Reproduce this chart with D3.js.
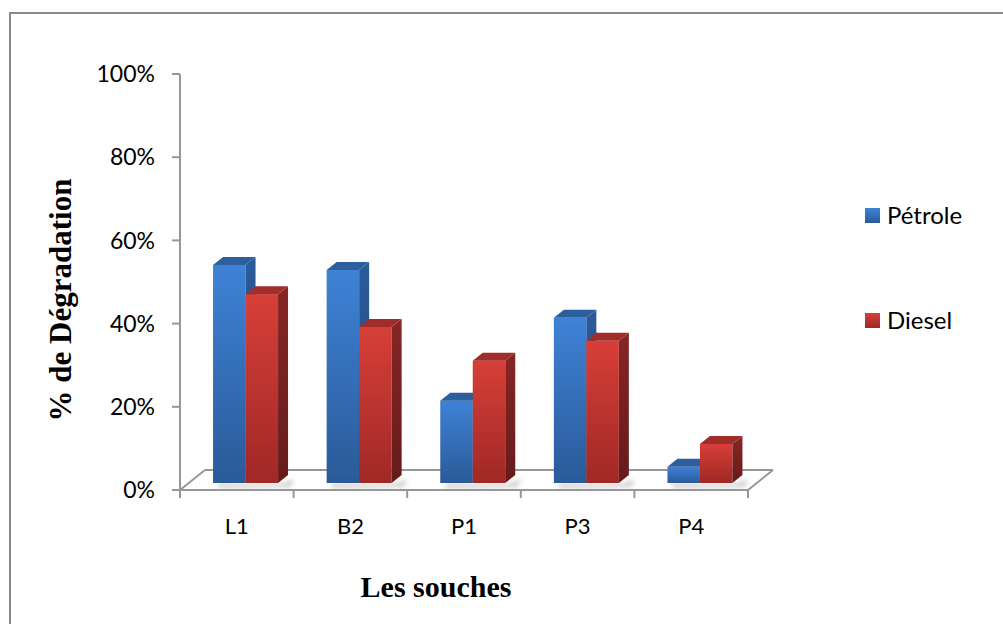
<!DOCTYPE html>
<html>
<head>
<meta charset="utf-8">
<script src="https://cdn.jsdelivr.net/npm/d3@7"></script>
<style>
  html, body { margin: 0; padding: 0; background: #fff; }
  svg { display: block; }
</style>
</head>
<body>
<svg id="chart" width="1003" height="624"></svg>
<script>
// Degradation rate per strain, for each hydrocarbon
const categories = ["L1", "B2", "P1", "P3", "P4"];
const seriesNames = ["Pétrole", "Diesel"];
const petrole = [0.524, 0.512, 0.198, 0.397, 0.039];
const diesel = [0.454, 0.375, 0.294, 0.342, 0.094];
const yTicks = [0, 0.2, 0.4, 0.6, 0.8, 1.0];

const svg = d3.select("#chart");
const sansFont = "Lato, 'Open Sans', sans-serif";
const serifFont = "'Liberation Serif', 'Times New Roman', serif";

// Outer frame
svg.append("rect")
  .attr("x", 10).attr("y", 13).attr("width", 1020).attr("height", 700)
  .attr("fill", "none").attr("stroke", "#8a8a8a").attr("stroke-width", 2);

const x0 = 180, x1 = 748, yBase = 490, yTop = 74;
const x = d3.scaleBand().domain(categories).range([x0, x1]).paddingInner(0).paddingOuter(0);
const y = d3.scaleLinear().domain([0, 1]).range([yBase, yTop]);

// Oblique projection of the depth axis
const kx = 1.25, ky = -1;
const floorDepth = 20, barFront = 7, barBack = 15;
const proj = (px, py, d) => [px + kx * d, py + ky * d];

const defs = svg.append("defs");
[
  { id: "gBlue", top: "#3e82d6", bottom: "#2a5a98" },
  { id: "gRed", top: "#d73f38", bottom: "#a02826" },
  { id: "gBlueSide", top: "#2b5c9a", bottom: "#1f4679" },
  { id: "gRedSide", top: "#862625", bottom: "#651b1a" }
].forEach(g => {
  const lg = defs.append("linearGradient").attr("id", g.id)
    .attr("x1", 0).attr("y1", 0).attr("x2", 0).attr("y2", 1);
  lg.append("stop").attr("offset", "0%").attr("stop-color", g.top);
  lg.append("stop").attr("offset", "100%").attr("stop-color", g.bottom);
});
defs.append("filter").attr("id", "soft").attr("x", "-50%").attr("y", "-50%").attr("width", "200%").attr("height", "200%")
  .append("feGaussianBlur").attr("stdDeviation", 2.5);

const axisColor = "#979797";

// Floor
const floor = svg.append("g");
const fl = [
  [proj(x0, yBase, 0), proj(x1, yBase, 0)],
  [proj(x0, yBase, floorDepth), proj(x1, yBase, floorDepth)],
  [proj(x0, yBase, 0), proj(x0, yBase, floorDepth)],
  [proj(x1, yBase, 0), proj(x1, yBase, floorDepth)]
];
floor.selectAll("line").data(fl).join("line")
  .attr("x1", d => d[0][0]).attr("y1", d => d[0][1])
  .attr("x2", d => d[1][0]).attr("y2", d => d[1][1])
  .attr("stroke", axisColor).attr("stroke-width", 2);

// Category tick marks below the floor front edge
const bounds = categories.map(c => x(c)).concat([x1]);
floor.selectAll("line.tick").data(bounds).join("line").attr("class", "tick")
  .attr("x1", d => d).attr("x2", d => d)
  .attr("y1", yBase).attr("y2", yBase + 8)
  .attr("stroke", axisColor).attr("stroke-width", 2);

// Value axis
const yAxis = svg.append("g");
yAxis.append("line").attr("x1", x0).attr("x2", x0).attr("y1", yTop).attr("y2", yBase)
  .attr("stroke", axisColor).attr("stroke-width", 2);
yAxis.selectAll("line.tk").data(yTicks).join("line").attr("class", "tk")
  .attr("x1", x0 - 8).attr("x2", x0).attr("y1", d => y(d)).attr("y2", d => y(d))
  .attr("stroke", axisColor).attr("stroke-width", 2);
yAxis.selectAll("text").data(yTicks).join("text")
  .attr("x", 155).attr("y", d => y(d)).attr("dy", "0.36em")
  .attr("text-anchor", "end")
  .attr("font-family", sansFont).attr("font-size", 23)
  .attr("fill", "#000")
  .text(d => d3.format(".0%")(d));

// Bars
const clusterW = 65;
const inner = d3.scaleBand().domain(seriesNames).range([0, clusterW]);
const rows = [];
categories.forEach((c, i) => {
  [petrole[i], diesel[i]].forEach((v, s) => rows.push({ c, s, v }));
});

const frontX = d => x(d.c) + (x.bandwidth() - clusterW) / 2 + inner(seriesNames[d.s]) + kx * barFront;
const frontY0 = y(0) + ky * barFront;
const frontYv = d => y(d.v) + ky * barFront;
const dxD = kx * (barBack - barFront), dyD = ky * (barBack - barFront);
const bw = inner.bandwidth();

// Soft shadows on the floor
const shadows = svg.append("g").attr("filter", "url(#soft)");
categories.forEach(c => {
  const bx = x(c) + (x.bandwidth() - clusterW) / 2 + kx * barFront;
  shadows.append("path")
    .attr("d", `M${bx + 4},${frontY0 + 1} L${bx + clusterW + 4},${frontY0 + 1} L${bx + clusterW + dxD + 6},${frontY0 - 4} L${bx + clusterW + dxD + 2},${frontY0 + 4} L${bx + 6},${frontY0 + 5} Z`)
    .attr("fill", "#9a9a9a").attr("opacity", 0.55);
});

const bars = svg.append("g");
const bar = bars.selectAll("g").data(rows).join("g");
bar.append("rect")
  .attr("x", d => frontX(d)).attr("y", d => frontYv(d))
  .attr("width", bw).attr("height", d => frontY0 - frontYv(d))
  .attr("fill", d => d.s === 0 ? "url(#gBlue)" : "url(#gRed)");
bar.append("path")
  .attr("d", d => {
    const xr = frontX(d) + bw, yt = frontYv(d);
    return `M${xr},${yt} L${xr + dxD},${yt + dyD} L${xr + dxD},${frontY0 + dyD} L${xr},${frontY0} Z`;
  })
  .attr("fill", d => d.s === 0 ? "url(#gBlueSide)" : "url(#gRedSide)");
bar.append("path")
  .attr("d", d => {
    const xl = frontX(d), yt = frontYv(d);
    return `M${xl},${yt} L${xl + bw},${yt} L${xl + bw + dxD},${yt + dyD} L${xl + dxD},${yt + dyD} Z`;
  })
  .attr("fill", d => d.s === 0 ? "#2d5e9e" : "#a02d2a");

// Category labels
svg.append("g").selectAll("text").data(categories).join("text")
  .attr("x", d => x(d) + x.bandwidth() / 2).attr("y", 526).attr("dy", "0.36em")
  .attr("text-anchor", "middle")
  .attr("font-family", sansFont).attr("font-size", 22)
  .attr("fill", "#000")
  .text(d => d);

// Axis titles
svg.append("text")
  .attr("x", 436).attr("y", 597)
  .attr("text-anchor", "middle")
  .attr("font-family", serifFont)
  .attr("font-weight", "bold").attr("font-size", 30)
  .attr("fill", "#000")
  .text("Les souches");

svg.append("text")
  .attr("transform", "translate(71,300) rotate(-90)")
  .attr("text-anchor", "middle")
  .attr("font-family", serifFont)
  .attr("font-weight", "bold").attr("font-size", 31)
  .attr("fill", "#000")
  .text("% de Dégradation");

// Legend
const legend = svg.append("g");
const legY = [215, 320];
seriesNames.forEach((name, i) => {
  legend.append("rect")
    .attr("x", 865).attr("y", legY[i] - 7).attr("width", 15).attr("height", 15)
    .attr("fill", i === 0 ? "url(#gBlue)" : "url(#gRed)");
  legend.append("text")
    .attr("x", 887).attr("y", legY[i]).attr("dy", "0.36em")
    .attr("font-family", sansFont).attr("font-size", 24)
    .attr("fill", "#000")
    .text(name);
});
</script>
</body>
</html>
